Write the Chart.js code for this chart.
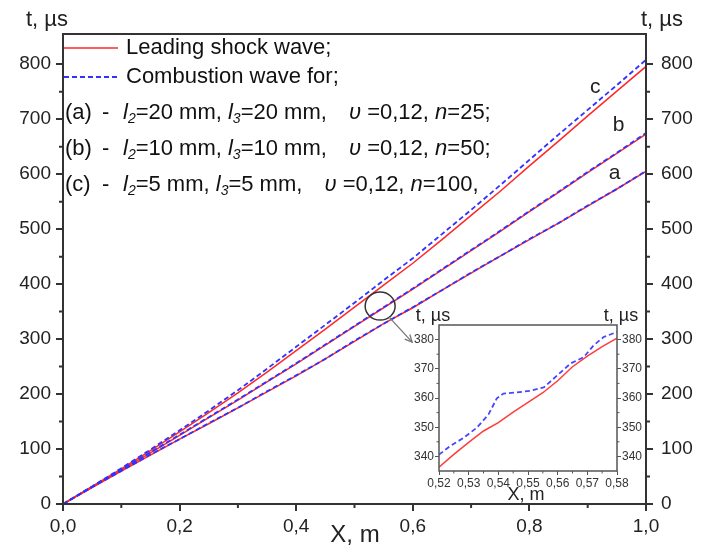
<!DOCTYPE html>
<html>
<head>
<meta charset="utf-8">
<script src="https://cdn.jsdelivr.net/npm/chart.js@4.4.1/dist/chart.umd.min.js"></script>
<style>
html, body { margin: 0; padding: 0; background: #fff; }
#wrap { position: relative; width: 712px; height: 549px; }
#main { position: absolute; left: 0; top: 0; }
#inset { position: absolute; left: 395px; top: 300px; }
</style>
</head>
<body>
<div id="wrap">
  <canvas id="main" width="712" height="549"></canvas>
  <canvas id="inset" width="255" height="205"></canvas>
</div>
<script>
// main plot: X (m) vs t (us)
const xMain = [0, 0.05, 0.1, 0.15, 0.2, 0.25, 0.3, 0.35, 0.4, 0.45, 0.5,
               0.55, 0.6, 0.65, 0.7, 0.75, 0.8, 0.85, 0.9, 0.95, 1.0];

const shockA = [0, 30, 60, 89, 118, 146, 175, 204, 233, 264, 296, 328, 357, 389, 420, 451, 481, 511, 542, 573, 605];
const combA  = [0, 31, 60, 90, 118, 147, 175, 205, 234, 264, 297, 328, 358, 389, 421, 451, 482, 511, 543, 573, 606];
const shockB = [0, 31, 62, 93, 125, 157, 189, 222, 255, 289, 323, 357, 391, 426, 461, 496, 532, 567, 603, 638, 673];
const combB  = [0, 31, 62, 94, 126, 158, 190, 223, 256, 290, 324, 358, 392, 427, 462, 497, 533, 568, 604, 639, 675];
const shockC = [0, 32, 64, 97, 131, 166, 202, 240, 279, 318, 358, 398, 438, 481, 525, 569, 615, 660, 706, 751, 796];
const combC  = [0, 32, 65, 99, 134, 170, 207, 246, 286, 326, 366, 407, 447, 491, 535, 580, 626, 672, 717, 762, 808];

// inset (curve b, 0.52..0.58 m)
const xInsetShock = [0.52, 0.525, 0.53, 0.535, 0.54, 0.545, 0.55, 0.555, 0.56, 0.565, 0.57, 0.575, 0.58];
const insetShock  = [336.3, 340.7, 344.8, 348.7, 351.6, 355.2, 358.5, 361.8, 365.9, 370.7, 374.3, 377.6, 380.5];
const xInsetComb  = [0.52, 0.5237, 0.5282, 0.5327, 0.5367, 0.5395, 0.5417, 0.5463, 0.5508, 0.5553, 0.5598, 0.5643, 0.5688, 0.5721, 0.5755, 0.58];
const insetComb   = [340.6, 343.5, 346.3, 349.8, 354.4, 359.9, 361.5, 361.9, 362.5, 363.6, 367.7, 371.8, 374.0, 378.0, 380.9, 382.6];
const insetYTicks = [340, 350, 360, 370, 380];

const legendLabels = ['Leading shock wave;', 'Combustion wave for;'];
const caseTags = ['(a)', '(b)', '(c)'];
const caseL = ['20', '10', '5'];
const caseN = ['25;', '50;', '100,'];
const caseU = '0,12';
const curveNames = ['a', 'b', 'c'];
const curveLabelPos = [[0.946, 602], [0.953, 689], [0.913, 758]];

const RED = 'rgb(255, 40, 40)';
const BLUE = 'rgb(50, 50, 255)';
const FONT = '"Liberation Sans", Arial, sans-serif';

function pts(xs, ys) {
    return xs.map((x, i) => ({ x: x, y: ys[i] }));
}

function lineSet(xs, ys, color, dashed) {
    return {
        data: pts(xs, ys),
        borderColor: color,
        borderWidth: dashed ? 1.8 : 1.5,
        borderDash: dashed ? [5, 3] : [],
        pointRadius: 0,
        tension: 0,
        fill: false
    };
}

function drawRuns(ctx, x, y, runs, size) {
    ctx.textBaseline = 'middle';
    ctx.textAlign = 'left';
    for (const r of runs) {
        if (r.gap) { x += r.gap; continue; }
        const sz = r.sub ? Math.round(size * 0.65) : size;
        ctx.font = (r.it ? 'italic ' : '') + sz + 'px ' + FONT;
        ctx.fillText(r.t, x, r.sub ? y + size * 0.3 : y);
        x += ctx.measureText(r.t).width;
    }
}

function minorTicks(ctx, chart, xs, ys, len) {
    const a = chart.chartArea;
    const sx = chart.scales.x, sy = chart.scales.y;
    ctx.beginPath();
    xs.forEach(v => {
        const px = sx.getPixelForValue(v);
        ctx.moveTo(px, a.bottom);
        ctx.lineTo(px, a.bottom + len);
    });
    ys.forEach(v => {
        const py = sy.getPixelForValue(v);
        ctx.moveTo(a.left, py);
        ctx.lineTo(a.left - len, py);
        ctx.moveTo(a.right, py);
        ctx.lineTo(a.right + len, py);
    });
    ctx.stroke();
}

const mainDeco = {
    id: 'mainDeco',
    afterDraw(chart) {
        const ctx = chart.ctx;
        const a = chart.chartArea;
        const sx = chart.scales.x, sy = chart.scales.y;
        ctx.save();
        // frame
        ctx.strokeStyle = '#333';
        ctx.lineWidth = 2;
        ctx.strokeRect(a.left, a.top, a.right - a.left, a.bottom - a.top);
        // minor ticks
        minorTicks(ctx, chart, [0.1, 0.3, 0.5, 0.7, 0.9], [50, 150, 250, 350, 450, 550, 650, 750], 4);

        // axis titles
        ctx.fillStyle = '#222';
        ctx.textAlign = 'center';
        ctx.textBaseline = 'middle';
        ctx.font = '22px ' + FONT;
        ctx.fillText('t, \u00b5s', 47, 20);
        ctx.fillText('t, \u00b5s', 662, 20);
        ctx.font = '24px ' + FONT;
        ctx.fillText('X, m', 355, 535);

        // curve letters
        ctx.font = '21px ' + FONT;
        curveNames.forEach((n, i) => {
            ctx.fillText(n, sx.getPixelForValue(curveLabelPos[i][0]), sy.getPixelForValue(curveLabelPos[i][1]));
        });

        // legend
        ctx.lineWidth = 1.5;
        ctx.strokeStyle = RED;
        ctx.beginPath(); ctx.moveTo(a.left + 1, 48); ctx.lineTo(118, 48); ctx.stroke();
        ctx.strokeStyle = BLUE;
        ctx.lineWidth = 1.8;
        ctx.setLineDash([5, 3]);
        ctx.beginPath(); ctx.moveTo(a.left + 1, 77); ctx.lineTo(118, 77); ctx.stroke();
        ctx.setLineDash([]);
        ctx.fillStyle = '#111';
        drawRuns(ctx, 126, 48, [{ t: legendLabels[0] }], 22);
        drawRuns(ctx, 126, 77, [{ t: legendLabels[1] }], 22);
        const rowY = [113, 149, 185];
        caseTags.forEach((tag, i) => {
            drawRuns(ctx, 65, rowY[i], [{ t: tag }], 22);
            drawRuns(ctx, 102, rowY[i], [{ t: '-' }], 22);
            drawRuns(ctx, 123, rowY[i], [
                { t: 'l', it: true }, { t: '2', sub: true, it: true },
                { t: '=' + caseL[i] + ' mm, ' },
                { t: 'l', it: true }, { t: '3', sub: true, it: true },
                { t: '=' + caseL[i] + ' mm, ' }, { gap: 16 },
                { t: '\u03c5', it: true }, { t: ' =' + caseU + ', ' },
                { t: 'n', it: true }, { t: '=' + caseN[i] }
            ], 22);
        });

        // zoom circle and arrow
        const cx = sx.getPixelForValue(0.544), cy = sy.getPixelForValue(360);
        ctx.strokeStyle = '#333';
        ctx.lineWidth = 1.5;
        ctx.beginPath();
        ctx.ellipse(cx, cy, 15, 14, 0, 0, Math.PI * 2);
        ctx.stroke();
        const x0 = cx + 9, y0 = cy + 11, x1 = cx + 32, y1 = cy + 36;
        ctx.strokeStyle = '#777';
        ctx.lineWidth = 1.3;
        ctx.beginPath(); ctx.moveTo(x0, y0); ctx.lineTo(x1, y1); ctx.stroke();
        const ang = Math.atan2(y1 - y0, x1 - x0);
        ctx.beginPath();
        ctx.moveTo(x1 - 8 * Math.cos(ang - 0.45), y1 - 8 * Math.sin(ang - 0.45));
        ctx.lineTo(x1, y1);
        ctx.lineTo(x1 - 8 * Math.cos(ang + 0.45), y1 - 8 * Math.sin(ang + 0.45));
        ctx.stroke();
        ctx.restore();
    }
};

const axisTick = {
    drawOnChartArea: false, drawTicks: true, tickLength: 7, color: '#333', lineWidth: 2
};

new Chart(document.getElementById('main'), {
    type: 'line',
    data: {
        datasets: [
            lineSet(xMain, combC, BLUE, true),
            lineSet(xMain, combB, BLUE, true),
            lineSet(xMain, combA, BLUE, true),
            lineSet(xMain, shockC, RED, false),
            lineSet(xMain, shockB, RED, false),
            lineSet(xMain, shockA, RED, false)
        ]
    },
    options: {
        responsive: false,
        animation: false,
        devicePixelRatio: 1,
        layout: { padding: { top: 34, left: 0, right: 0, bottom: 0 } },
        plugins: { legend: { display: false }, tooltip: { enabled: false } },
        scales: {
            x: {
                type: 'linear', min: 0, max: 1, position: 'bottom',
                afterFit: s => { s.height = 45; },
                border: { display: false },
                grid: axisTick,
                ticks: {
                    stepSize: 0.2, autoSkip: false, maxRotation: 0, padding: 4,
                    color: '#222', font: { size: 19, family: FONT },
                    callback: v => v.toFixed(1).replace('.', ',')
                }
            },
            y: {
                type: 'linear', min: 0, max: 855, position: 'left',
                afterFit: s => { s.width = 63; },
                border: { display: false },
                grid: axisTick,
                ticks: {
                    stepSize: 100, includeBounds: false, padding: 5,
                    color: '#222', font: { size: 19, family: FONT }
                }
            },
            y2: {
                type: 'linear', min: 0, max: 855, position: 'right',
                afterFit: s => { s.width = 66; },
                border: { display: false },
                grid: axisTick,
                ticks: {
                    stepSize: 100, includeBounds: false, padding: 8,
                    color: '#222', font: { size: 19, family: FONT }
                }
            }
        }
    },
    plugins: [mainDeco]
});

const insetDeco = {
    id: 'insetDeco',
    beforeDraw(chart) {
        const ctx = chart.ctx;
        const a = chart.chartArea;
        ctx.save();
        ctx.fillStyle = '#fff';
        ctx.fillRect(a.left, a.top, a.right - a.left, a.bottom - a.top);
        ctx.restore();
    },
    afterDraw(chart) {
        const ctx = chart.ctx;
        const a = chart.chartArea;
        ctx.save();
        ctx.strokeStyle = '#555';
        ctx.lineWidth = 1.5;
        ctx.strokeRect(a.left, a.top, a.right - a.left, a.bottom - a.top);
        ctx.lineWidth = 1;
        minorTicks(ctx, chart, [0.525, 0.535, 0.545, 0.555, 0.565, 0.575], [345, 355, 365, 375], 2.5);
        ctx.fillStyle = '#222';
        ctx.textAlign = 'center';
        ctx.textBaseline = 'middle';
        ctx.font = '18px ' + FONT;
        ctx.fillText('t, \u00b5s', 38, 16);
        ctx.fillText('t, \u00b5s', 226, 16);
        ctx.fillText('X, m', 131, 195);
        ctx.restore();
    }
};

const insetTick = {
    drawOnChartArea: false, drawTicks: true, tickLength: 4, color: '#555', lineWidth: 1
};

function insetY(position, width) {
    return {
        type: 'linear', min: 335, max: 385, position: position,
        afterFit: s => { s.width = width; },
        afterBuildTicks: s => { s.ticks = insetYTicks.map(v => ({ value: v })); },
        border: { display: false },
        grid: insetTick,
        ticks: { padding: 1, color: '#333', font: { size: 12, family: FONT } }
    };
}

new Chart(document.getElementById('inset'), {
    type: 'line',
    data: {
        datasets: [
            lineSet(xInsetComb, insetComb, 'rgb(70, 70, 255)', true),
            lineSet(xInsetShock, insetShock, 'rgb(255, 60, 60)', false)
        ]
    },
    options: {
        responsive: false,
        animation: false,
        devicePixelRatio: 1,
        layout: { padding: { top: 25, left: 0, right: 0, bottom: 0 } },
        plugins: { legend: { display: false }, tooltip: { enabled: false } },
        scales: {
            x: {
                type: 'linear', min: 0.52, max: 0.58, position: 'bottom',
                afterFit: s => { s.height = 34; },
                border: { display: false },
                grid: insetTick,
                ticks: {
                    stepSize: 0.01, autoSkip: false, maxRotation: 0, padding: 1,
                    color: '#333', font: { size: 12, family: FONT },
                    callback: v => v.toFixed(2).replace('.', ',')
                }
            },
            y: insetY('left', 44),
            y2: insetY('right', 33)
        }
    },
    plugins: [insetDeco]
});
</script>
</body>
</html>
